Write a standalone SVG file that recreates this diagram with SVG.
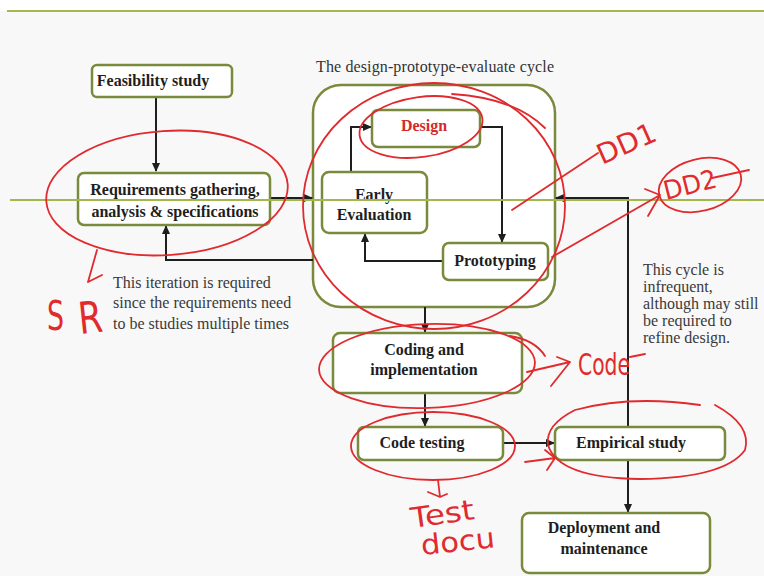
<svg xmlns="http://www.w3.org/2000/svg" width="764" height="576" viewBox="0 0 764 576">
<style>
.box{fill:#ffffff;stroke:#7a8a3c;stroke-width:2.5}
.lbl{font-family:"Liberation Serif","Times New Roman",serif;font-weight:bold;font-size:16px;fill:#1e1e1e;text-anchor:middle}
.note{font-family:"Liberation Serif","Times New Roman",serif;font-size:16px;fill:#3a3a3a}
.edge{fill:none;stroke:#1e1e1e;stroke-width:2}
.ink{fill:none;stroke:#e02a2e;stroke-width:1.8;stroke-linecap:round;stroke-linejoin:round}
.hand{font-family:"DejaVu Sans","Liberation Sans",sans-serif;fill:#e02a2e}
.rule{stroke:#a3b84c;stroke-width:2}
</style>
<defs>
<marker id="ah" markerUnits="userSpaceOnUse" markerWidth="9" markerHeight="8" refX="8" refY="4" orient="auto">
<path d="M0,0 L9,4 L0,8 z" fill="#1e1e1e"/>
</marker>
</defs>
<rect x="0" y="0" width="764" height="576" fill="#f8f8f8"/>
<rect x="0" y="0" width="764" height="11" fill="#ffffff"/>
<line class="rule" x1="7" y1="11" x2="764" y2="11"/>

<g id="cycle">
<rect class="box" x="313" y="85" width="242" height="222" rx="28"/>
<text class="note" x="435" y="72" text-anchor="middle" textLength="238" style="fill:#333">The design-prototype-evaluate cycle</text>
</g>

<g id="connectors">
<path class="edge" d="M156,97 V171" marker-end="url(#ah)"/>
<path class="edge" d="M270,198 H312" marker-end="url(#ah)"/>
<path class="edge" d="M351,172 V127 H371" marker-end="url(#ah)"/>
<path class="edge" d="M480,127 H502 V242" marker-end="url(#ah)"/>
<path class="edge" d="M443,261 H365 V234" marker-end="url(#ah)"/>
<path class="edge" d="M313,260 H166 V226" marker-end="url(#ah)"/>
<path class="edge" d="M628,427 V198 H556" marker-end="url(#ah)"/>
<path class="edge" d="M425,307 V332" marker-end="url(#ah)"/>
<path class="edge" d="M425,393 V426" marker-end="url(#ah)"/>
<path class="edge" d="M503,443 H554" marker-end="url(#ah)"/>
<path class="edge" d="M628,460 V512" marker-end="url(#ah)"/>
</g>

<g id="feasibility">
<rect class="box" x="92" y="65" width="140" height="32" rx="5"/>
<text class="lbl" x="153" y="86">Feasibility study</text>
</g>
<g id="requirements">
<rect class="box" x="78" y="173" width="192" height="52" rx="6"/>
<text class="lbl" x="175" y="195">Requirements gathering,</text>
<text class="lbl" x="175" y="217">analysis &amp; specifications</text>
</g>
<g id="design">
<rect class="box" x="372" y="110" width="108" height="37" rx="6"/>
<text class="lbl" x="424" y="131" style="fill:#d42a2a">Design</text>
</g>
<g id="early-evaluation">
<rect class="box" x="322" y="172" width="105" height="61" rx="7"/>
<text class="lbl" x="374" y="200">Early</text>
<text class="lbl" x="374" y="220">Evaluation</text>
</g>
<g id="prototyping">
<rect class="box" x="443" y="243" width="105" height="37" rx="6"/>
<text class="lbl" x="495" y="266">Prototyping</text>
</g>
<g id="coding">
<rect class="box" x="333" y="333" width="189" height="60" rx="7"/>
<text class="lbl" x="424" y="355">Coding and</text>
<text class="lbl" x="424" y="375">implementation</text>
</g>
<g id="code-testing">
<rect class="box" x="358" y="427" width="145" height="33" rx="6"/>
<text class="lbl" x="422" y="448">Code testing</text>
</g>
<g id="empirical">
<rect class="box" x="555" y="427" width="170" height="33" rx="6"/>
<text class="lbl" x="631" y="448">Empirical study</text>
</g>
<g id="deployment">
<rect class="box" x="522" y="513" width="188" height="60" rx="7"/>
<text class="lbl" x="604" y="533">Deployment and</text>
<text class="lbl" x="604" y="554">maintenance</text>
</g>

<g id="notes">
<text class="note" x="113" y="288">This iteration is required</text>
<text class="note" x="113" y="308">since the requirements need</text>
<text class="note" x="113" y="329">to be studies multiple times</text>
<text class="note" x="643" y="275">This cycle is</text>
<text class="note" x="643" y="292">infrequent,</text>
<text class="note" x="643" y="309">although may still</text>
<text class="note" x="643" y="326">be required to</text>
<text class="note" x="643" y="343">refine design.</text>
</g>

<line class="rule" x1="10" y1="200" x2="764" y2="200"/>

<g id="annotations">
<ellipse class="ink" cx="167" cy="193" rx="121" ry="62" transform="rotate(-4 167 193)"/>
<ellipse class="ink" cx="434" cy="206" rx="131" ry="123"/>
<path class="ink" d="M452,94 Q515,98 545,128"/>
<ellipse class="ink" cx="421" cy="127" rx="62" ry="30" transform="rotate(-8 421 127)"/>
<path class="ink" d="M512,210 L598,153"/>
<text class="hand" x="602" y="165" font-size="28" textLength="62" lengthAdjust="spacingAndGlyphs" transform="rotate(-24 602 165)">DD1</text>
<path class="ink" d="M552,257 L660,195 M645,189 L660,195 L648,216"/>
<ellipse class="ink" cx="700" cy="185" rx="42" ry="26" transform="rotate(-14 700 185)"/>
<text class="hand" x="666" y="200" font-size="26" textLength="54" lengthAdjust="spacingAndGlyphs" transform="rotate(-14 666 200)">DD2</text>
<path class="ink" d="M712,178 L749,170"/>
<path class="ink" d="M97,250 L88,282 M88,282 L102,275"/>
<text class="hand" x="47" y="330" font-size="40" textLength="17" lengthAdjust="spacingAndGlyphs">S</text>
<text class="hand" x="80" y="334" font-size="44" textLength="24" lengthAdjust="spacingAndGlyphs" transform="rotate(-6 80 334)">R</text>
<ellipse class="ink" cx="427" cy="366" rx="108" ry="42" transform="rotate(-2 427 366)"/>
<path class="ink" d="M510,336 Q535,340 545,356"/>
<path class="ink" d="M527,372 L570,362 M557,357 L570,362 L551,386"/>
<text class="hand" x="578" y="375" font-size="30" textLength="52" lengthAdjust="spacingAndGlyphs">Code</text>
<path class="ink" d="M630,357 L645,354"/>
<ellipse class="ink" cx="433" cy="446" rx="82" ry="34"/>
<path class="ink" d="M438,480 L440,497 M428,492 L440,497 L447,494"/>
<text class="hand" x="412" y="528" font-size="28" textLength="64" lengthAdjust="spacingAndGlyphs" transform="rotate(-8 412 528)">Test</text>
<text class="hand" x="422" y="555" font-size="28" textLength="74" lengthAdjust="spacingAndGlyphs" transform="rotate(-6 422 555)">docu</text>
<path class="ink" d="M525,462 L555,458 M545,450 L555,458 L547,470"/>
<path class="ink" d="M700,405 Q630,395 575,410 Q545,425 548,445 Q558,478 640,479 Q725,478 745,450 Q752,425 715,405"/>
</g>
</svg>
